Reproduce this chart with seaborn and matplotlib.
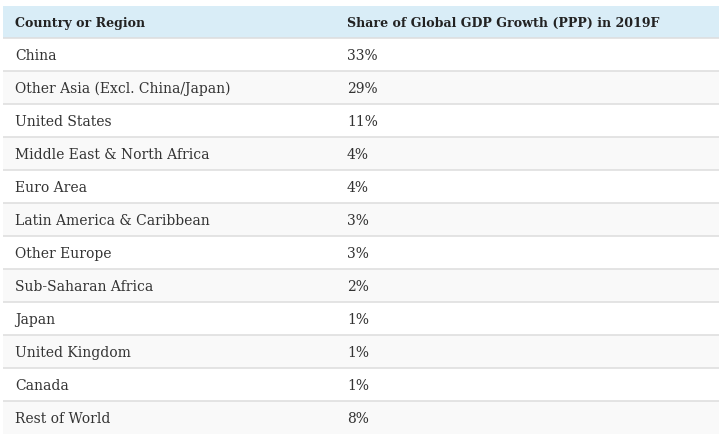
import matplotlib
matplotlib.use("Agg")
import matplotlib.pyplot as plt
import seaborn as sns

# table content
header = ["Country or Region", "Share of Global GDP Growth (PPP) in 2019F"]
regions = ["China", "Other Asia (Excl. China/Japan)", "United States",
           "Middle East & North Africa", "Euro Area", "Latin America & Caribbean",
           "Other Europe", "Sub-Saharan Africa", "Japan", "United Kingdom",
           "Canada", "Rest of World"]
shares = [33, 29, 11, 4, 4, 3, 3, 2, 1, 1, 1, 8]

sns.set_theme(style="white")
plt.rcParams['font.family'] = ['DejaVu Serif']

W, H = 719, 446
fig = plt.figure(figsize=(W / 100, H / 100), dpi=100)
ax = fig.add_axes([0, 0, 1, 1])
ax.set_xlim(0, W)
ax.set_ylim(H, 0)
ax.axis("off")

left, right = 3, W
top, head_h, row_h = 6, 32, 33
col_x = [15, 347]
line_col = "#dddddd"

# header
ax.fill_between([left, right], top, top + head_h, color="#d9edf7", lw=0)
for x, label in zip(col_x, header):
    ax.text(x, top + 21, label, ha="left", va="baseline",
            fontsize=9.1, fontweight="bold", color="#222222")

# body rows
y0 = top + head_h
for i, (name, val) in enumerate(zip(regions, shares)):
    y = y0 + i * row_h
    bg = "#ffffff" if i % 2 == 0 else "#f9f9f9"
    ax.fill_between([left, right], y, y + row_h, color=bg, lw=0)
    ax.plot([left, right], [y, y], color=line_col, lw=1.1, solid_capstyle="butt")
    ax.text(col_x[0], y + 22, name, ha="left", va="baseline",
            fontsize=10.0, color="#333333")
    ax.text(col_x[1], y + 22, f"{val}%", ha="left", va="baseline",
            fontsize=10.0, color="#333333")

fig.savefig("out.png", dpi=100)
